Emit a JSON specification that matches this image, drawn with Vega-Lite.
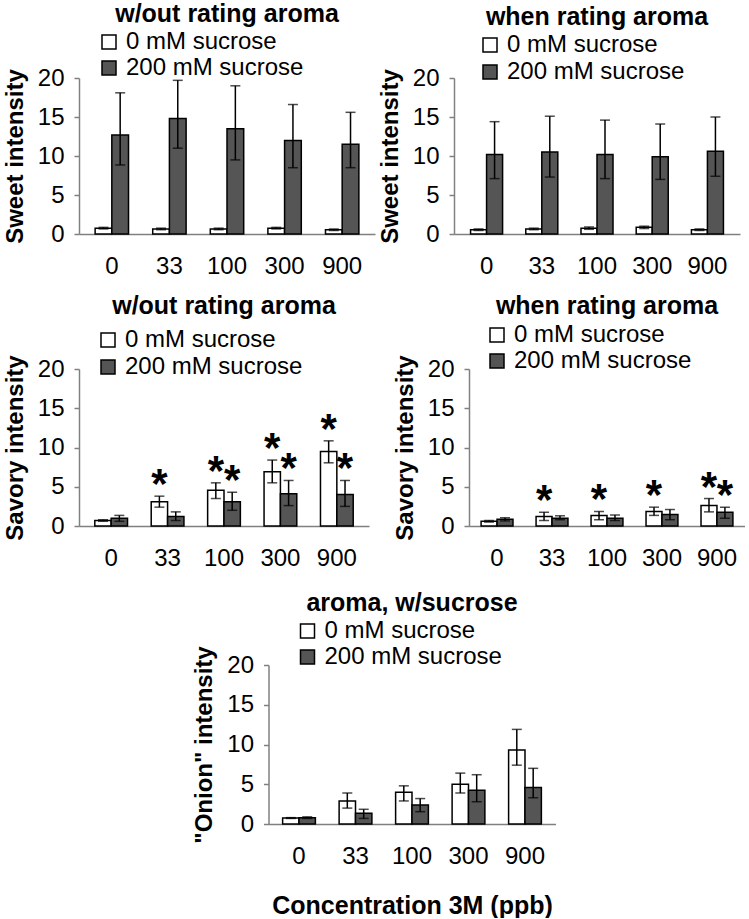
{
  "$schema": "https://vega.github.io/schema/vega-lite/v6.json",
  "padding": {"top": 2, "left": 3, "right": 0, "bottom": 0},
  "background": "white",
  "config": {
    "font": "Liberation Sans",
    "view": {"stroke": null},
    "title": {"font": "Liberation Sans", "fontSize": 25, "fontWeight": "bold", "color": "black", "anchor": "middle", "offset": 4},
    "axis": {"grid": false, "domainColor": "#808080", "domainWidth": 1.5, "tickColor": "#808080", "tickWidth": 1.5, "labelFont": "Liberation Sans", "labelFontSize": 24, "labelColor": "black", "titleFont": "Liberation Sans", "titleFontSize": 24, "titleFontWeight": "bold", "titleColor": "black"},
    "axisX": {"ticks": false, "labelPadding": 20, "labelAngle": 0, "titlePadding": 25, "titleFontSize": 25},
    "axisY": {"tickSize": 5, "labelPadding": 10, "titlePadding": 10, "values": [0, 5, 10, 15, 20]},
    "legend": {"orient": "none", "title": null, "labelFont": "Liberation Sans", "labelFontSize": 24, "labelColor": "black", "labelLimit": 400, "symbolType": "square", "symbolSize": 196, "symbolStrokeColor": "black", "symbolStrokeWidth": 1.5, "labelOffset": 5, "rowPadding": 2}
  },
  "datasets": {
    "d": [
      {"panel": "sweet_wo", "conc": "0", "sucrose": "0 mM sucrose", "mean": 0.75, "lo": 0.65, "hi": 0.85, "star": false},
      {"panel": "sweet_wo", "conc": "0", "sucrose": "200 mM sucrose", "mean": 12.7, "lo": 8.85, "hi": 18.1, "star": false},
      {"panel": "sweet_wo", "conc": "33", "sucrose": "0 mM sucrose", "mean": 0.65, "lo": 0.55, "hi": 0.75, "star": false},
      {"panel": "sweet_wo", "conc": "33", "sucrose": "200 mM sucrose", "mean": 14.8, "lo": 11.0, "hi": 19.7, "star": false},
      {"panel": "sweet_wo", "conc": "100", "sucrose": "0 mM sucrose", "mean": 0.65, "lo": 0.55, "hi": 0.75, "star": false},
      {"panel": "sweet_wo", "conc": "100", "sucrose": "200 mM sucrose", "mean": 13.5, "lo": 9.5, "hi": 19.0, "star": false},
      {"panel": "sweet_wo", "conc": "300", "sucrose": "0 mM sucrose", "mean": 0.75, "lo": 0.65, "hi": 0.85, "star": false},
      {"panel": "sweet_wo", "conc": "300", "sucrose": "200 mM sucrose", "mean": 12.0, "lo": 8.5, "hi": 16.6, "star": false},
      {"panel": "sweet_wo", "conc": "900", "sucrose": "0 mM sucrose", "mean": 0.55, "lo": 0.45, "hi": 0.65, "star": false},
      {"panel": "sweet_wo", "conc": "900", "sucrose": "200 mM sucrose", "mean": 11.5, "lo": 8.5, "hi": 15.6, "star": false},

      {"panel": "sweet_w", "conc": "0", "sucrose": "0 mM sucrose", "mean": 0.55, "lo": 0.45, "hi": 0.65, "star": false},
      {"panel": "sweet_w", "conc": "0", "sucrose": "200 mM sucrose", "mean": 10.2, "lo": 7.1, "hi": 14.4, "star": false},
      {"panel": "sweet_w", "conc": "33", "sucrose": "0 mM sucrose", "mean": 0.65, "lo": 0.55, "hi": 0.75, "star": false},
      {"panel": "sweet_w", "conc": "33", "sucrose": "200 mM sucrose", "mean": 10.5, "lo": 7.3, "hi": 15.1, "star": false},
      {"panel": "sweet_w", "conc": "100", "sucrose": "0 mM sucrose", "mean": 0.75, "lo": 0.6, "hi": 0.9, "star": false},
      {"panel": "sweet_w", "conc": "100", "sucrose": "200 mM sucrose", "mean": 10.2, "lo": 7.1, "hi": 14.6, "star": false},
      {"panel": "sweet_w", "conc": "300", "sucrose": "0 mM sucrose", "mean": 0.85, "lo": 0.7, "hi": 1.0, "star": false},
      {"panel": "sweet_w", "conc": "300", "sucrose": "200 mM sucrose", "mean": 9.9, "lo": 7.0, "hi": 14.1, "star": false},
      {"panel": "sweet_w", "conc": "900", "sucrose": "0 mM sucrose", "mean": 0.55, "lo": 0.45, "hi": 0.65, "star": false},
      {"panel": "sweet_w", "conc": "900", "sucrose": "200 mM sucrose", "mean": 10.6, "lo": 7.4, "hi": 15.0, "star": false},

      {"panel": "savory_wo", "conc": "0", "sucrose": "0 mM sucrose", "mean": 0.7, "lo": 0.6, "hi": 0.8, "star": false},
      {"panel": "savory_wo", "conc": "0", "sucrose": "200 mM sucrose", "mean": 1.0, "lo": 0.6, "hi": 1.35, "star": false},
      {"panel": "savory_wo", "conc": "33", "sucrose": "0 mM sucrose", "mean": 3.1, "lo": 2.4, "hi": 3.8, "star": true},
      {"panel": "savory_wo", "conc": "33", "sucrose": "200 mM sucrose", "mean": 1.2, "lo": 0.7, "hi": 1.8, "star": false},
      {"panel": "savory_wo", "conc": "100", "sucrose": "0 mM sucrose", "mean": 4.55, "lo": 3.5, "hi": 5.5, "star": true},
      {"panel": "savory_wo", "conc": "100", "sucrose": "200 mM sucrose", "mean": 3.1, "lo": 2.0, "hi": 4.3, "star": true},
      {"panel": "savory_wo", "conc": "300", "sucrose": "0 mM sucrose", "mean": 6.9, "lo": 5.5, "hi": 8.4, "star": true},
      {"panel": "savory_wo", "conc": "300", "sucrose": "200 mM sucrose", "mean": 4.1, "lo": 2.6, "hi": 5.8, "star": true},
      {"panel": "savory_wo", "conc": "900", "sucrose": "0 mM sucrose", "mean": 9.5, "lo": 8.05, "hi": 10.85, "star": true},
      {"panel": "savory_wo", "conc": "900", "sucrose": "200 mM sucrose", "mean": 4.0, "lo": 2.5, "hi": 5.8, "star": true},

      {"panel": "savory_w", "conc": "0", "sucrose": "0 mM sucrose", "mean": 0.6, "lo": 0.5, "hi": 0.7, "star": false},
      {"panel": "savory_w", "conc": "0", "sucrose": "200 mM sucrose", "mean": 0.85, "lo": 0.65, "hi": 1.05, "star": false},
      {"panel": "savory_w", "conc": "33", "sucrose": "0 mM sucrose", "mean": 1.2, "lo": 0.7, "hi": 1.75, "star": true},
      {"panel": "savory_w", "conc": "33", "sucrose": "200 mM sucrose", "mean": 1.0, "lo": 0.8, "hi": 1.3, "star": false},
      {"panel": "savory_w", "conc": "100", "sucrose": "0 mM sucrose", "mean": 1.35, "lo": 0.8, "hi": 1.85, "star": true},
      {"panel": "savory_w", "conc": "100", "sucrose": "200 mM sucrose", "mean": 1.0, "lo": 0.7, "hi": 1.4, "star": false},
      {"panel": "savory_w", "conc": "300", "sucrose": "0 mM sucrose", "mean": 1.85, "lo": 1.35, "hi": 2.4, "star": true},
      {"panel": "savory_w", "conc": "300", "sucrose": "200 mM sucrose", "mean": 1.45, "lo": 0.8, "hi": 2.1, "star": false},
      {"panel": "savory_w", "conc": "900", "sucrose": "0 mM sucrose", "mean": 2.6, "lo": 1.8, "hi": 3.5, "star": true},
      {"panel": "savory_w", "conc": "900", "sucrose": "200 mM sucrose", "mean": 1.75, "lo": 1.0, "hi": 2.4, "star": true},

      {"panel": "onion", "conc": "0", "sucrose": "0 mM sucrose", "mean": 0.75, "lo": 0.7, "hi": 0.8, "star": false},
      {"panel": "onion", "conc": "0", "sucrose": "200 mM sucrose", "mean": 0.8, "lo": 0.7, "hi": 0.9, "star": false},
      {"panel": "onion", "conc": "33", "sucrose": "0 mM sucrose", "mean": 2.9, "lo": 2.0, "hi": 3.9, "star": false},
      {"panel": "onion", "conc": "33", "sucrose": "200 mM sucrose", "mean": 1.35, "lo": 0.7, "hi": 1.85, "star": false},
      {"panel": "onion", "conc": "100", "sucrose": "0 mM sucrose", "mean": 4.0, "lo": 2.9, "hi": 4.8, "star": false},
      {"panel": "onion", "conc": "100", "sucrose": "200 mM sucrose", "mean": 2.4, "lo": 1.55, "hi": 3.2, "star": false},
      {"panel": "onion", "conc": "300", "sucrose": "0 mM sucrose", "mean": 5.0, "lo": 3.9, "hi": 6.4, "star": false},
      {"panel": "onion", "conc": "300", "sucrose": "200 mM sucrose", "mean": 4.25, "lo": 2.8, "hi": 6.2, "star": false},
      {"panel": "onion", "conc": "900", "sucrose": "0 mM sucrose", "mean": 9.3, "lo": 7.4, "hi": 11.9, "star": false},
      {"panel": "onion", "conc": "900", "sucrose": "200 mM sucrose", "mean": 4.6, "lo": 3.3, "hi": 7.0, "star": false}
    ]
  },
  "data": {"name": "d"},
  "spacing": 21,
  "center": true,
  "resolve": {"legend": {"fill": "independent"}, "scale": {"x": "independent", "y": "independent", "xOffset": "independent", "fill": "independent"}},
  "vconcat": [
    {
      "spacing": 16,
      "resolve": {"legend": {"fill": "independent"}, "scale": {"x": "independent", "y": "independent", "xOffset": "independent", "fill": "independent"}},
      "vconcat": [
        {
          "spacing": 3,
          "resolve": {"legend": {"fill": "independent"}, "scale": {"x": "independent", "y": "independent", "xOffset": "independent", "fill": "independent"}},
          "hconcat": [
            {
              "width": 296, "height": 156,
              "title": {"text": "w/out rating aroma", "offset": 3},
              "transform": [{"filter": "datum.panel == 'sweet_wo'"}],
              "encoding": {
                "x": {"field": "conc", "type": "ordinal", "sort": ["0", "33", "100", "300", "900"], "scale": {"paddingInner": 0.42, "paddingOuter": 0.28}, "axis": {"title": null}},
                "xOffset": {"field": "sucrose", "type": "nominal", "scale": {"paddingInner": 0, "paddingOuter": 0}}
              },
              "layer": [
                {"mark": {"type": "bar", "stroke": "black", "strokeWidth": 1.5},
                 "encoding": {
                   "y": {"field": "mean", "type": "quantitative", "title": "Sweet intensity", "scale": {"domain": [0, 20]}},
                   "fill": {"field": "sucrose", "type": "nominal", "scale": {"domain": ["0 mM sucrose", "200 mM sucrose"], "range": ["white", "#555555"]}, "legend": {"legendX": 18, "legendY": -48}}
                 }},
                {"mark": {"type": "rule", "color": "black", "strokeWidth": 1.5}, "encoding": {"y": {"field": "lo", "type": "quantitative", "title": "Sweet intensity"}, "y2": {"field": "hi"}}},
                {"mark": {"type": "tick", "color": "black", "size": 10, "thickness": 1.5}, "encoding": {"y": {"field": "lo", "type": "quantitative", "title": "Sweet intensity"}}},
                {"mark": {"type": "tick", "color": "black", "size": 10, "thickness": 1.5}, "encoding": {"y": {"field": "hi", "type": "quantitative", "title": "Sweet intensity"}}}
              ]
            },
            {
              "width": 286, "height": 156,
              "title": {"text": "when rating aroma", "offset": 3},
              "transform": [{"filter": "datum.panel == 'sweet_w'"}],
              "encoding": {
                "x": {"field": "conc", "type": "ordinal", "sort": ["0", "33", "100", "300", "900"], "scale": {"paddingInner": 0.42, "paddingOuter": 0.3}, "axis": {"title": null}},
                "xOffset": {"field": "sucrose", "type": "nominal", "scale": {"paddingInner": 0, "paddingOuter": 0}}
              },
              "layer": [
                {"mark": {"type": "bar", "stroke": "black", "strokeWidth": 1.5},
                 "encoding": {
                   "y": {"field": "mean", "type": "quantitative", "title": "Sweet intensity", "scale": {"domain": [0, 20]}},
                   "fill": {"field": "sucrose", "type": "nominal", "scale": {"domain": ["0 mM sucrose", "200 mM sucrose"], "range": ["white", "#555555"]}, "legend": {"legendX": 24, "legendY": -45, "rowPadding": 3}}
                 }},
                {"mark": {"type": "rule", "color": "black", "strokeWidth": 1.5}, "encoding": {"y": {"field": "lo", "type": "quantitative", "title": "Sweet intensity"}, "y2": {"field": "hi"}}},
                {"mark": {"type": "tick", "color": "black", "size": 10, "thickness": 1.5}, "encoding": {"y": {"field": "lo", "type": "quantitative", "title": "Sweet intensity"}}},
                {"mark": {"type": "tick", "color": "black", "size": 10, "thickness": 1.5}, "encoding": {"y": {"field": "hi", "type": "quantitative", "title": "Sweet intensity"}}}
              ]
            }
          ]
        },
        {
          "spacing": 24,
          "resolve": {"legend": {"fill": "independent"}, "scale": {"x": "independent", "y": "independent", "xOffset": "independent", "fill": "independent"}},
          "hconcat": [
            {
              "width": 290, "height": 157,
              "title": {"text": "w/out rating aroma", "offset": 9},
              "transform": [{"filter": "datum.panel == 'savory_wo'"}],
              "encoding": {
                "x": {"field": "conc", "type": "ordinal", "sort": ["0", "33", "100", "300", "900"], "scale": {"paddingInner": 0.42, "paddingOuter": 0.28}, "axis": {"title": null}},
                "xOffset": {"field": "sucrose", "type": "nominal", "scale": {"paddingInner": 0, "paddingOuter": 0}}
              },
              "layer": [
                {"mark": {"type": "bar", "stroke": "black", "strokeWidth": 1.5},
                 "encoding": {
                   "y": {"field": "mean", "type": "quantitative", "title": "Savory intensity", "scale": {"domain": [0, 20]}},
                   "fill": {"field": "sucrose", "type": "nominal", "scale": {"domain": ["0 mM sucrose", "200 mM sucrose"], "range": ["white", "#555555"]}, "legend": {"legendX": 17, "legendY": -41, "rowPadding": 3}}
                 }},
                {"mark": {"type": "rule", "color": "black", "strokeWidth": 1.5}, "encoding": {"y": {"field": "lo", "type": "quantitative", "title": "Savory intensity"}, "y2": {"field": "hi"}}},
                {"mark": {"type": "tick", "color": "black", "size": 10, "thickness": 1.5}, "encoding": {"y": {"field": "lo", "type": "quantitative", "title": "Savory intensity"}}},
                {"mark": {"type": "tick", "color": "black", "size": 10, "thickness": 1.5}, "encoding": {"y": {"field": "hi", "type": "quantitative", "title": "Savory intensity"}}},
                {"transform": [{"filter": "datum.star"}], "mark": {"type": "text", "text": "*", "fontSize": 42, "fontWeight": "bold", "baseline": "alphabetic", "dy": 2, "color": "black"}, "encoding": {"y": {"field": "hi", "type": "quantitative", "title": "Savory intensity"}}}
              ]
            },
            {
              "width": 276, "height": 157,
              "title": "when rating aroma",
              "transform": [{"filter": "datum.panel == 'savory_w'"}],
              "encoding": {
                "x": {"field": "conc", "type": "ordinal", "sort": ["0", "33", "100", "300", "900"], "scale": {"paddingInner": 0.42, "paddingOuter": 0.22}, "axis": {"title": null}},
                "xOffset": {"field": "sucrose", "type": "nominal", "scale": {"paddingInner": 0, "paddingOuter": 0}}
              },
              "layer": [
                {"mark": {"type": "bar", "stroke": "black", "strokeWidth": 1.5},
                 "encoding": {
                   "y": {"field": "mean", "type": "quantitative", "title": "Savory intensity", "scale": {"domain": [0, 20]}},
                   "fill": {"field": "sucrose", "type": "nominal", "scale": {"domain": ["0 mM sucrose", "200 mM sucrose"], "range": ["white", "#555555"]}, "legend": {"legendX": 16, "legendY": -46}}
                 }},
                {"mark": {"type": "rule", "color": "black", "strokeWidth": 1.5}, "encoding": {"y": {"field": "lo", "type": "quantitative", "title": "Savory intensity"}, "y2": {"field": "hi"}}},
                {"mark": {"type": "tick", "color": "black", "size": 10, "thickness": 1.5}, "encoding": {"y": {"field": "lo", "type": "quantitative", "title": "Savory intensity"}}},
                {"mark": {"type": "tick", "color": "black", "size": 10, "thickness": 1.5}, "encoding": {"y": {"field": "hi", "type": "quantitative", "title": "Savory intensity"}}},
                {"transform": [{"filter": "datum.star"}], "mark": {"type": "text", "text": "*", "fontSize": 42, "fontWeight": "bold", "baseline": "alphabetic", "dy": 2, "color": "black"}, "encoding": {"y": {"field": "hi", "type": "quantitative", "title": "Savory intensity"}}}
              ]
            }
          ]
        }
      ]
    },
    {
      "width": 287, "height": 159,
      "title": {"text": "aroma, w/sucrose", "offset": 3},
      "transform": [{"filter": "datum.panel == 'onion'"}],
      "encoding": {
        "x": {"field": "conc", "type": "ordinal", "sort": ["0", "33", "100", "300", "900"], "scale": {"paddingInner": 0.42, "paddingOuter": 0.25}, "axis": {"title": "Concentration 3M (ppb)"}},
        "xOffset": {"field": "sucrose", "type": "nominal", "scale": {"paddingInner": 0, "paddingOuter": 0}}
      },
      "layer": [
        {"mark": {"type": "bar", "stroke": "black", "strokeWidth": 1.5},
         "encoding": {
           "y": {"field": "mean", "type": "quantitative", "title": "\"Onion\" intensity", "scale": {"domain": [0, 20]}},
           "fill": {"field": "sucrose", "type": "nominal", "scale": {"domain": ["0 mM sucrose", "200 mM sucrose"], "range": ["white", "#555555"]}, "legend": {"legendX": 27, "legendY": -46}}
         }},
        {"mark": {"type": "rule", "color": "black", "strokeWidth": 1.5}, "encoding": {"y": {"field": "lo", "type": "quantitative", "title": "\"Onion\" intensity"}, "y2": {"field": "hi"}}},
        {"mark": {"type": "tick", "color": "black", "size": 10, "thickness": 1.5}, "encoding": {"y": {"field": "lo", "type": "quantitative", "title": "\"Onion\" intensity"}}},
        {"mark": {"type": "tick", "color": "black", "size": 10, "thickness": 1.5}, "encoding": {"y": {"field": "hi", "type": "quantitative", "title": "\"Onion\" intensity"}}}
      ]
    }
  ]
}
